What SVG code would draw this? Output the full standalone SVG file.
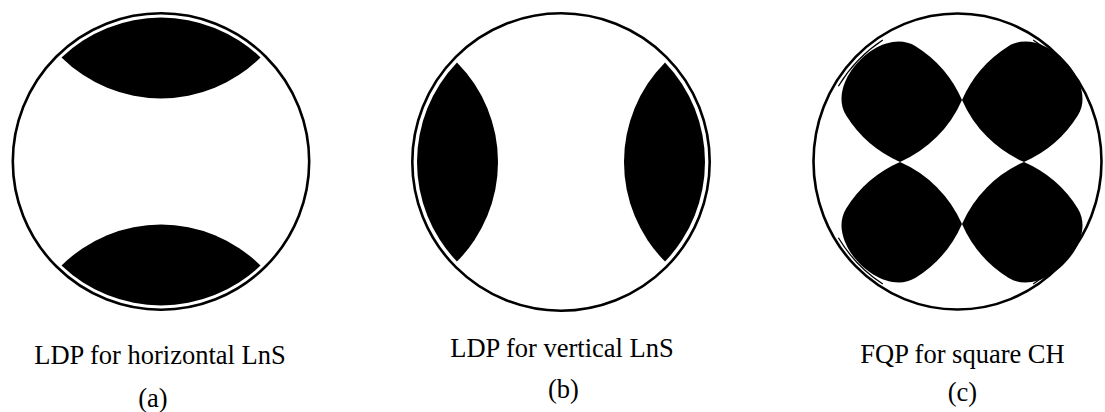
<svg xmlns="http://www.w3.org/2000/svg" xmlns:xlink="http://www.w3.org/1999/xlink" width="1105" height="412" viewBox="0 0 1105 412">
<style>
.rim{fill:none;stroke:#000;stroke-width:2.6}
.inner{fill:none;stroke:#000;stroke-width:1.3}
.blk{fill:#000;stroke:none}
.lbl{font-family:'Liberation Serif',serif;font-size:26.5px;fill:#000;text-anchor:middle}
</style>
<defs>
<path id="blob" d="M62,0 A120,120 0 0 0 15.6,-53.8 C-18.7,-75.2 -75.2,-18.7 -53.8,15.6 A120,120 0 0 0 0,62 A120,120 0 0 0 62,0 Z"/>
</defs>
<rect width="1105" height="412" fill="#fff"/>
<g id="panel-a">
<circle class="rim" cx="161" cy="161.5" r="148.2"/>
<path class="blk" d="M61.5,57.44 A141.2,141.2 0 0 0 260.5,57.44 A144,144 0 0 0 61.5,57.44 Z"/>
<path class="blk" d="M61.5,265.56 A141.2,141.2 0 0 1 260.5,265.56 A144,144 0 0 1 61.5,265.56 Z"/>
<text class="lbl" x="160" y="364">LDP for horizontal LnS</text>
<text class="lbl" x="153" y="407">(a)</text>
</g>
<g id="panel-b">
<circle class="rim" cx="561" cy="162" r="148.7"/>
<path class="blk" d="M456.97,62.43 A141.3,141.3 0 0 1 456.97,261.57 A144,144 0 0 1 456.97,62.43 Z"/>
<path class="blk" d="M665.03,62.43 A141.3,141.3 0 0 0 665.03,261.57 A144,144 0 0 0 665.03,62.43 Z"/>
<text class="lbl" x="562" y="357">LDP for vertical LnS</text>
<text class="lbl" x="563.5" y="397.5">(b)</text>
</g>
<g id="panel-c">
<ellipse class="rim" cx="957.5" cy="161.5" rx="144" ry="148"/>
<ellipse class="inner" cx="958" cy="162" rx="140.5" ry="144.5" pathLength="360" stroke-dasharray="26 64" stroke-dashoffset="58"/>
<use xlink:href="#blob" class="blk" transform="translate(900,100)"/>
<use xlink:href="#blob" class="blk" transform="translate(1024,100) scale(-1,1)"/>
<use xlink:href="#blob" class="blk" transform="translate(900,224) scale(1,-1)"/>
<use xlink:href="#blob" class="blk" transform="translate(1024,224) scale(-1,-1)"/>
<text class="lbl" x="962.5" y="363">FQP for square CH</text>
<text class="lbl" x="962.5" y="401">(c)</text>
</g>
</svg>
